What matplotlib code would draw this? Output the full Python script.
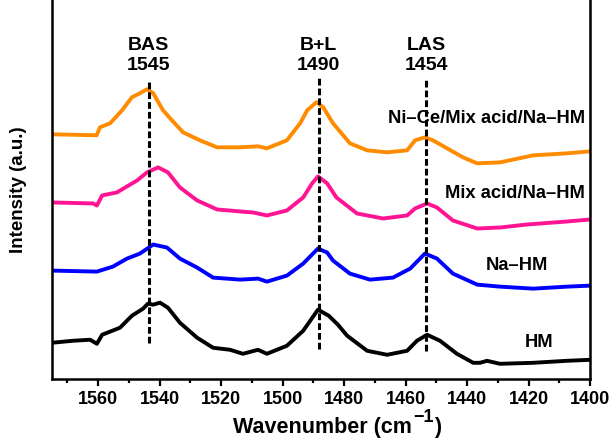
import numpy as np
import matplotlib
matplotlib.use('Agg')
import matplotlib.pyplot as plt

plt.rcParams['font.family'] = ['Liberation Sans', 'DejaVu Sans']
plt.rcParams['font.weight'] = 'bold'

# FTIR pyridine spectra, offset for clarity
wn_nice = [1575, 1560.5, 1559.4, 1556.1, 1552.2, 1549.0, 1546.4, 1544.1, 1542.1, 1538.9,
           1536.0, 1532.4, 1526.9, 1521.3, 1513.8, 1508.0, 1505.1, 1498.6, 1494.3, 1492.0,
           1489.0, 1486.8, 1483.6, 1478.1, 1472.5, 1466.0, 1459.5, 1456.9, 1453.7, 1451.1,
           1446.5, 1441.3, 1436.7, 1429.3, 1418.5, 1407.5, 1400]
int_nice = [2.44, 2.43, 2.51, 2.55, 2.68, 2.81, 2.85, 2.89, 2.85, 2.68,
            2.58, 2.46, 2.38, 2.31, 2.31, 2.32, 2.30, 2.38, 2.55, 2.68,
            2.76, 2.71, 2.55, 2.35, 2.28, 2.26, 2.28, 2.38, 2.41, 2.38,
            2.30, 2.21, 2.15, 2.16, 2.23, 2.25, 2.27]

wn_mix = [1575, 1561.7, 1560.4, 1558.7, 1553.9, 1547.3, 1544.1, 1540.5, 1537.3, 1533.4,
          1527.8, 1521.3, 1513.8, 1509.6, 1505.1, 1498.6, 1493.3, 1490.4, 1488.5, 1485.5,
          1482.5, 1475.8, 1467.3, 1459.5, 1456.9, 1453.0, 1449.8, 1444.6, 1436.7, 1429.3,
          1420.5, 1407.5, 1400]
int_mix = [1.76, 1.75, 1.73, 1.83, 1.86, 1.98, 2.06, 2.11, 2.06, 1.91,
           1.78, 1.69, 1.67, 1.66, 1.63, 1.68, 1.81, 1.95, 2.02, 1.95,
           1.81, 1.65, 1.60, 1.63, 1.70, 1.75, 1.71, 1.58, 1.50, 1.51,
           1.54, 1.57, 1.59]

wn_na = [1575, 1560.4, 1555.2, 1550.6, 1546.4, 1542.1, 1537.6, 1533.4, 1527.8, 1522.6,
         1513.8, 1508.0, 1505.1, 1498.6, 1493.3, 1488.5, 1485.5, 1483.6, 1478.1, 1471.6,
         1464.1, 1458.5, 1453.7, 1449.8, 1444.6, 1436.7, 1429.3, 1418.5, 1407.5, 1400]
int_na = [1.08, 1.07, 1.12, 1.20, 1.25, 1.34, 1.31, 1.20, 1.11, 1.01,
          0.99, 1.00, 0.97, 1.03, 1.15, 1.30, 1.26, 1.18, 1.05, 0.99,
          1.01, 1.10, 1.25, 1.20, 1.05, 0.94, 0.92, 0.90, 0.92, 0.93]

wn_hm = [1575, 1568.2, 1562.6, 1560.4, 1558.7, 1552.9, 1549.0, 1545.4, 1543.8, 1542.1,
         1539.9, 1537.3, 1533.4, 1527.8, 1522.6, 1517.1, 1512.9, 1508.0, 1505.1, 1498.6,
         1493.3, 1488.5, 1485.0, 1482.0, 1479.0, 1472.5, 1466.0, 1459.5, 1456.3, 1453.0,
         1448.8, 1443.3, 1438.0, 1435.8, 1433.5, 1429.3, 1418.5, 1407.5, 1400]
int_hm = [0.36, 0.38, 0.39, 0.35, 0.44, 0.51, 0.63, 0.70, 0.75, 0.74,
          0.76, 0.71, 0.56, 0.41, 0.31, 0.29, 0.25, 0.29, 0.25, 0.33,
          0.48, 0.69, 0.63, 0.54, 0.43, 0.28, 0.24, 0.28, 0.38, 0.44,
          0.38, 0.25, 0.16, 0.16, 0.18, 0.15, 0.16, 0.18, 0.19]

# acid site bands
band_pos = [1543.5, 1488.3, 1453.2]
band_names = ['BAS\n1545', 'B+L\n1490', 'LAS\n1454']
band_lo = [0.36, 0.30, 0.28]
band_hi = [2.98, 3.01, 3.00]

fig = plt.figure(figsize=(6.15, 4.40), dpi=100)
ax = fig.add_axes([0.0846, 0.139, 0.8748, 0.861])

line_kw = dict(lw=2.8, solid_joinstyle='round', solid_capstyle='round')
ax.plot(wn_hm, int_hm, color='black', **line_kw)
ax.plot(wn_na, int_na, color='#0000FF', **line_kw)
ax.plot(wn_mix, int_mix, color='#FF1493', **line_kw)
ax.plot(wn_nice, int_nice, color='#FF8C00', **line_kw)

for x, lo, hi, name in zip(band_pos, band_lo, band_hi, band_names):
    ax.plot([x, x], [lo, hi], color='black', lw=2.2, linestyle=(0, (2.2, 1.0)))
    ax.text(x, 3.225, name, ha='center', va='center', fontsize=14,
            fontweight='bold', linespacing=1.25)

lab_kw = dict(va='center', fontsize=13.2, fontweight='bold')
ax.text(1401.6, 2.60, 'Ni–Ce/Mix acid/Na–HM', ha='right', **lab_kw)
ax.text(1401.6, 1.85, 'Mix acid/Na–HM', ha='right', **lab_kw)
ax.text(1423.7, 1.13, 'Na–HM', ha='center', **lab_kw)
ax.text(1416.6, 0.36, 'HM', ha='center', **lab_kw)

ax.set_xlim(1575, 1400)
ax.set_ylim(0, 3.78)
ax.set_xticks(np.arange(1560, 1399, -20))
ax.set_xticks(np.arange(1570, 1399, -10), minor=True)
ax.set_yticks([])
ax.tick_params(axis='x', which='major', direction='out', length=5, width=1.6,
               labelsize=13, pad=4)
ax.tick_params(axis='x', which='minor', direction='out', length=3, width=1.6)
for lbl in ax.get_xticklabels():
    lbl.set_fontweight('bold')

for side in ['left', 'right', 'bottom']:
    ax.spines[side].set_linewidth(1.8)
ax.spines['top'].set_visible(False)

ax.set_ylabel('Intensity (a.u.)', fontsize=13.5, fontweight='bold', labelpad=18)

# x label with a full-size superscript
fig.canvas.draw()
renderer = fig.canvas.get_renderer()
W, H = fig.bbox.width, fig.bbox.height
base_y = 0.016
t1 = fig.text(233 / W, base_y, 'Wavenumber (cm', fontsize=15.5, fontweight='bold', va='baseline')
bb = t1.get_window_extent(renderer)
t2 = fig.text((bb.x1 + 1) / W, base_y + 11 / H, '−1', fontsize=13, fontweight='bold', va='baseline')
bb2 = t2.get_window_extent(renderer)
fig.text((bb2.x1 + 1) / W, base_y, ')', fontsize=15.5, fontweight='bold', va='baseline')

fig.savefig('out.png', dpi=100)
